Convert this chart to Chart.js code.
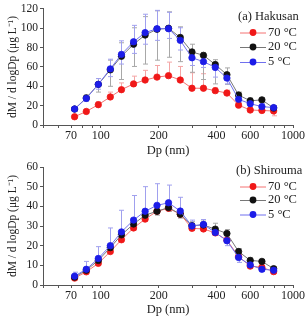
<!DOCTYPE html>
<html>
<head>
<meta charset="utf-8">
<script src="https://cdn.jsdelivr.net/npm/chart.js@4"></script>
<style>
  html, body { margin: 0; padding: 0; background: #fff; }
  canvas { display: block; }
</style>
</head>
<body>
<canvas id="top" width="306" height="158"></canvas>
<canvas id="bot" width="306" height="159"></canvas>
<script>
/* Mass size distributions at three heating temperatures, Hakusan (a) and Shirouma (b). */
const dp = [73, 84, 97, 112, 128, 148, 170, 196, 225, 259, 298, 342, 394, 453, 521, 599, 689, 793];
const xLabels = [70, 100, 200, 400, 600, 1000];
const xTicks = [50, 60, 70, 80, 90, 100, 200, 300, 400, 500, 600, 700, 800, 900, 1000];
const tempLabels = ["70 °C", "20 °C", "5 °C"];

// (a) Hakusan
const hak70 = [8.5, 14, 21, 29, 36.5, 42.5, 46.5, 49.5, 51, 46.5, 38, 38, 35.5, 33, 20.5, 15.5, 15, 14.5];
const hak20 = [16.5, 28, 42, 57, 71, 83.5, 93, 99, 100, 90.5, 75.5, 72, 62.5, 52, 31, 25, 26, 17.5];
const hak5 = [16.5, 27.5, 42, 58, 73, 86, 95.5, 99.5, 99.5, 87.5, 69.5, 65.5, 59.5, 48.5, 26.5, 22, 19, 18];
const hak70Up = [1, 2, 3, 5, 7, 8, 10, 12, 14, 14, 16, 15, 3, 3, 2, 2, 2, 2];
const hak70Dn = [1, 1, 1, 1, 1, 1, 1, 1, 1, 1, 1, 1, 1, 1, 1, 1, 1, 5];
const hak20Up = [2, 3, 6, 10, 14, 17, 19, 19, 17, 11, 8, 3, 5, 7, 3, 3, 2, 2];
const hak20Dn = [2, 3, 8, 17, 24, 23, 30, 32, 30, 25, 21, 25, 20, 10, 3, 3, 2, 2];
const hak5Up = [2, 3, 6, 10, 14, 17, 19, 19, 17, 13, 7, 4, 4, 5, 3, 3, 3, 2];
const hak5Dn = [2, 3, 5, 8, 10, 12, 12, 12, 10, 10, 8, 6, 10, 6, 3, 3, 2, 2];

// (b) Shirouma
const shi70 = [3.5, 6.7, 11, 17, 23, 29, 33.5, 37.5, 39, 36, 28.8, 28.5, 26.5, 22.8, 14.5, 9.6, 9, 6.8];
const shi20 = [4, 7.5, 12.5, 19, 25.5, 31, 35.5, 37.5, 39.4, 36, 30.2, 30.5, 28.4, 26.2, 17, 12.5, 12, 8.3];
const shi5 = [4.5, 8, 13.5, 20, 27, 33, 37.5, 40.5, 41.8, 37.6, 30, 30.8, 26.7, 22.5, 14, 10.2, 8, 7.5];
const shi70Up = [1, 1, 1, 1, 1, 1, 1, 1, 1, 1, 1, 1, 1, 1, 1, 1, 1, 1];
const shi70Dn = [1, 1, 1, 1, 1, 1, 1, 1, 1, 1, 1, 1, 1, 1, 1, 1, 1, 1];
const shi20Up = [1, 1, 1.5, 1.5, 2, 2, 2, 2, 2, 2, 2, 2, 3, 2, 1.5, 1.5, 1, 1];
const shi20Dn = [1, 1, 1.5, 1.5, 2, 2, 2, 2, 2, 2, 2, 2, 2, 2, 1.5, 1.5, 1, 1];
const shi5Up = [2, 4, 6, 9, 11, 12.5, 12.5, 11, 9, 7, 3, 2.5, 1.5, 1.5, 1.5, 1.5, 1, 1];
const shi5Dn = [1, 1, 1, 1, 1, 1, 1, 1, 1, 1, 1.5, 1, 1, 2.5, 2.5, 1.5, 1, 1];

(function () {
  const FONT = "'Liberation Serif', 'Times New Roman', serif";
  Chart.defaults.font.family = FONT;
  Chart.defaults.color = "#222";
  const AX = "#555";
  const styles = [
    { mark: "#f01818", line: "#f47272", err: "#f4a5a5", order: 2 },
    { mark: "#111111", line: "#777777", err: "#a8a8a8", order: 1 },
    { mark: "#1c1ce8", line: "#7070ee", err: "#a0a0ee", order: 0 },
  ];

  // vertical error bars with caps, drawn beneath the markers
  const errBars = {
    id: "errBars",
    beforeDatasetsDraw(chart) {
      const { ctx, chartArea: a, scales: { y } } = chart;
      ctx.save();
      ctx.beginPath(); ctx.rect(a.left, a.top, a.right - a.left, a.bottom - a.top); ctx.clip();
      ctx.lineWidth = 1;
      chart.data.datasets.forEach((ds, di) => {
        const meta = chart.getDatasetMeta(di);
        ctx.strokeStyle = ds.errColor;
        meta.data.forEach((pt, i) => {
          const v = ds.data[i];
          const yt = y.getPixelForValue(v + ds.errUp[i]), yb = y.getPixelForValue(v - ds.errDn[i]);
          const x = Math.round(pt.x) + 0.5;
          ctx.beginPath();
          ctx.moveTo(x, yt); ctx.lineTo(x, yb);
          ctx.moveTo(x - 2.5, yt); ctx.lineTo(x + 2.5, yt);
          ctx.moveTo(x - 2.5, yb); ctx.lineTo(x + 2.5, yb);
          ctx.stroke();
        });
      });
      ctx.restore();
    },
  };

  // in-plot legend block, top right
  const inLegend = {
    id: "inLegend",
    afterDraw(chart, args, o) {
      const { ctx } = chart;
      ctx.save();
      ctx.font = `12.5px ${FONT}`;
      ctx.fillStyle = "#222";
      ctx.textBaseline = "middle";
      ctx.fillText(o.title, o.tx, o.ty);
      chart.data.datasets.forEach((ds, i) => {
        const yy = o.rows[i];
        ctx.strokeStyle = styles[i].line; ctx.lineWidth = 1;
        ctx.beginPath(); ctx.moveTo(240, yy + 0.5); ctx.lineTo(266, yy + 0.5); ctx.stroke();
        ctx.fillStyle = styles[i].mark;
        ctx.beginPath(); ctx.arc(253, yy, 3.4, 0, Math.PI * 2); ctx.fill();
        ctx.fillStyle = "#222";
        ctx.fillText(ds.label, 268, yy);
      });
      ctx.restore();
    },
  };

  function panel(id, series, ups, dns, yMax, yStep, leg, area) {
    new Chart(document.getElementById(id), {
      type: "line",
      data: {
        labels: dp,
        datasets: series.map((s, i) => ({
          label: tempLabels[i], data: s, errUp: ups[i], errDn: dns[i], errColor: styles[i].err,
          borderColor: styles[i].line, backgroundColor: styles[i].mark, borderWidth: 1,
          pointRadius: 3.2, pointBorderWidth: 0.8, pointBorderColor: styles[i].mark, pointBackgroundColor: styles[i].mark,
          tension: 0, order: styles[i].order,
        })),
      },
      options: {
        responsive: false, animation: false,
        layout: { padding: { left: 0, right: 13, top: area.top, bottom: 0 } },
        plugins: { legend: { display: false }, tooltip: { enabled: false }, inLegend: leg },
        scales: {
          x: {
            type: "logarithmic", min: 50, max: 1000,
            afterBuildTicks: (s) => { s.ticks = xTicks.map((v) => ({ value: v })); },
            afterFit: (s) => { s.height = area.xh; },
            ticks: { autoSkip: false, maxRotation: 0, padding: 1, font: { size: 12, lineHeight: 1.1 },
              callback: (v) => (xLabels.includes(v) ? String(v) : "") },
            grid: { drawOnChartArea: false, drawTicks: true, tickLength: 3, color: AX },
            border: { color: AX },
            title: { display: true, text: "Dp (nm)", font: { size: 12.5, lineHeight: 1.1 }, padding: { top: 0, bottom: 0 } },
          },
          y: {
            min: 0, max: yMax,
            afterFit: (s) => { s.width = 43; },
            ticks: { stepSize: yStep, padding: 2, font: { size: 11.5 } },
            grid: { drawOnChartArea: false, drawTicks: true, tickLength: 3, color: AX },
            border: { color: AX },
            title: { display: true, text: "dM / d logDp (μg L⁻¹)", font: { size: 11.5, lineHeight: 1.1 }, padding: { top: 7, bottom: 0 } },
          },
        },
      },
      plugins: [errBars, inLegend],
    });
  }

  panel("top", [hak70, hak20, hak5], [hak70Up, hak20Up, hak5Up], [hak70Dn, hak20Dn, hak5Dn], 120, 20,
    { title: "(a) Hakusan", tx: 238, ty: 17, rows: [32.5, 47, 62] }, { top: 7, xh: 33 });
  panel("bot", [shi70, shi20, shi5], [shi70Up, shi20Up, shi5Up], [shi70Dn, shi20Dn, shi5Dn], 60, 10,
    { title: "(b) Shirouma", tx: 236, ty: 13, rows: [28.5, 42, 56.5] }, { top: 9, xh: 32 });
})();
</script>
</body>
</html>
